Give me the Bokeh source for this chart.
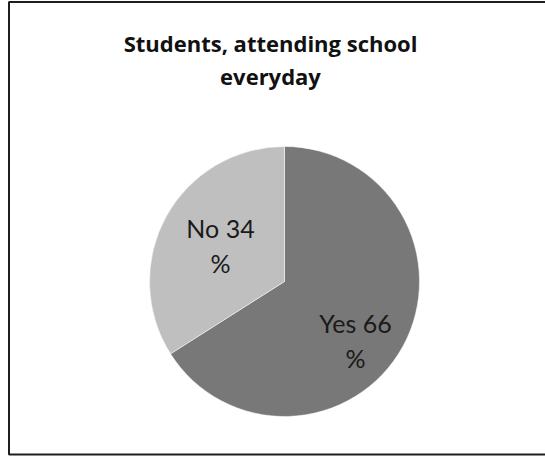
import numpy as np
from bokeh.plotting import figure
from bokeh.models import Range1d, ColumnDataSource
from bokeh.core.properties import value
from bokeh.embed import file_html
from bokeh.resources import INLINE

# ---- data ----
categories = ["Yes", "No"]
percents = [66, 34]
colors = ["#787878", "#bfbfbf"]
title_text = "Students, attending school\neveryday"

# ---- layout (pixel coords, y downwards) ----
W, H = 545, 456
CX, CY, R = 284, 281, 135
label_pos = [(355, 340), (220, 245)]

p = figure(width=W, height=H, output_backend="svg", toolbar_location=None,
           x_range=Range1d(0, W), y_range=Range1d(-H, 0),
           min_border=0, background_fill_color="white")
p.axis.visible = False
p.grid.visible = False
p.outline_line_color = None

# chart frame
p.quad(left=[8.5], right=[W + 20], top=[-1.5], bottom=[-454], fill_color=None,
       line_color="#1e1e1e", line_width=2)

fr = np.array(percents) / sum(percents)
cum = np.concatenate([[0], np.cumsum(fr)])
# clockwise from 12 o'clock
start = np.pi / 2 - cum[1:] * 2 * np.pi
end = np.pi / 2 - cum[:-1] * 2 * np.pi

src = ColumnDataSource(dict(x=[CX] * len(percents), y=[-CY] * len(percents),
                            start=start, end=end, color=colors))
p.wedge(x="x", y="y", radius=R, start_angle="start", end_angle="end",
        fill_color="color", line_color="white", line_width=0.5, source=src)

labels = [f"{c} {v}\n%" for c, v in zip(categories, percents)]
p.text(x=[lp[0] for lp in label_pos], y=[-lp[1] for lp in label_pos], text=labels,
       text_align="center", text_baseline="middle", text_font=value("Lato"),
       text_font_size="25px", text_color="#1a1a1a", text_line_height=1.17)

p.text(x=[270], y=[-59], text=[title_text], text_align="center", text_baseline="middle",
       text_font=value("Open Sans"), text_font_style="bold", text_font_size="22px",
       text_color="#111111", text_line_height=1.07)

open("out.html", "w").write(file_html(p, INLINE))
